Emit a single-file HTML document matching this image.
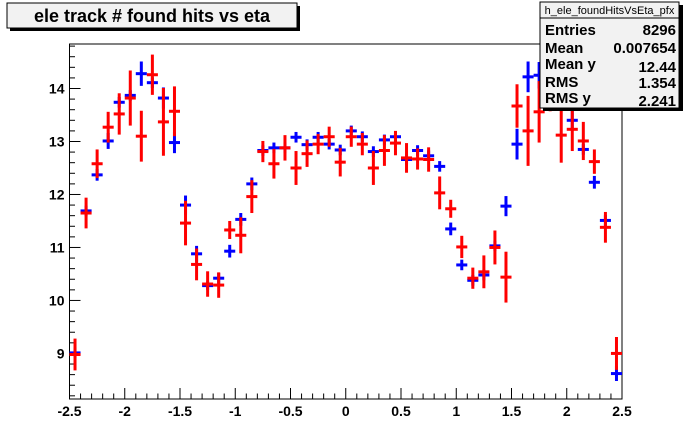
<!DOCTYPE html>
<html><head><meta charset="utf-8"><style>
body{margin:0;background:#fff;}
svg{display:block;font-family:"Liberation Sans",Arial,sans-serif;}
</style></head><body>
<svg id="chart" width="692" height="444" viewBox="0 0 692 444" xmlns="http://www.w3.org/2000/svg">
<rect x="0" y="0" width="692" height="444" fill="#ffffff"/>
<g id="plot"></g>
<g>
<rect x="10" y="6" width="290" height="25" fill="#000"/>
<rect x="7" y="3" width="290" height="25" fill="#f2f2f2" stroke="#000" stroke-width="1"/>
<text x="152" y="22" text-anchor="middle" font-size="18" font-weight="bold" fill="#000">ele track # found hits vs eta</text>
</g>
<g>
<rect x="543" y="5" width="140" height="106" fill="#000"/>
<rect x="540" y="2" width="139" height="106" fill="#f2f2f2" stroke="#000" stroke-width="1"/>
<line x1="540" y1="18" x2="679" y2="18" stroke="#000" stroke-width="1"/>
<text x="609.5" y="14" text-anchor="middle" font-size="11" fill="#000">h_ele_foundHitsVsEta_pfx</text>
<g font-size="15" font-weight="bold" fill="#000">
<text x="545" y="35">Entries</text><text x="676" y="35" text-anchor="end">8296</text>
<text x="545" y="53">Mean</text><text x="676" y="53" text-anchor="end">0.007654</text>
<text x="545" y="69">Mean y</text><text x="676" y="72" text-anchor="end">12.44</text>
<text x="545" y="87">RMS</text><text x="676" y="88" text-anchor="end">1.354</text>
<text x="545" y="103">RMS y</text><text x="676" y="106" text-anchor="end">2.241</text>
</g>
</g>
</svg>
<script>
const blueVals=[9.01,11.69,12.37,13.01,13.74,13.87,14.28,14.11,13.82,12.98,11.80,10.88,10.28,10.42,10.93,11.53,12.20,12.83,12.88,12.88,13.08,12.94,13.08,12.95,12.84,13.20,13.09,12.81,13.03,13.09,12.66,12.83,12.73,12.53,11.35,10.67,10.38,10.48,11.03,11.78,12.95,14.22,14.25,14.2,13.9,13.4,12.85,12.23,11.51,8.62];
const blueErrs=[0.1,0.1,0.11,0.15,0.1,0.1,0.23,0.1,0.2,0.2,0.18,0.15,0.08,0.1,0.12,0.12,0.12,0.1,0.1,0.1,0.1,0.1,0.1,0.1,0.1,0.1,0.1,0.1,0.1,0.1,0.1,0.1,0.1,0.1,0.12,0.1,0.1,0.1,0.1,0.19,0.29,0.29,0.25,0.25,0.2,0.2,0.1,0.12,0.1,0.14];
const redVals=[8.98,11.65,12.58,13.27,13.52,13.82,13.10,14.26,13.37,13.57,11.46,10.68,10.31,10.29,11.33,11.23,11.96,12.81,12.58,12.88,12.50,12.77,12.95,13.09,12.61,13.09,12.95,12.50,12.83,12.97,12.69,12.67,12.66,12.03,11.73,11.01,10.42,10.54,11.00,10.44,13.67,13.20,13.56,13.97,13.12,13.23,13.01,12.62,11.38,9.0];
const redErrs=[0.3,0.29,0.27,0.29,0.39,0.52,0.48,0.38,0.64,0.47,0.42,0.30,0.24,0.24,0.17,0.34,0.31,0.2,0.28,0.24,0.32,0.25,0.19,0.19,0.27,0.19,0.21,0.32,0.29,0.23,0.28,0.2,0.23,0.31,0.17,0.21,0.2,0.31,0.32,0.48,0.41,0.66,0.58,0.4,0.52,0.41,0.36,0.23,0.29,0.31];
const xTicks=[-2.5,-2,-1.5,-1,-0.5,0,0.5,1,1.5,2,2.5];
const xTickLabels=["-2.5","-2","-1.5","-1","-0.5","0","0.5","1","1.5","2","2.5"];
const yTicks=[9,10,11,12,13,14];
const yTickLabels=["9","10","11","12","13","14"];
const xMin=-2.5,xMax=2.5,yMin=8.14,yMax=14.84,nBins=50;
const L=69.5,R=622,T=44,B=399;
const NS="http://www.w3.org/2000/svg";
function sx(v){return L+(v-xMin)/(xMax-xMin)*(R-L);}
function sy(v){return B-(v-yMin)/(yMax-yMin)*(B-T);}
const g=document.getElementById('plot');
function mk(tag,attrs,parent){const e=document.createElementNS(NS,tag);for(const k in attrs)e.setAttribute(k,attrs[k]);(parent||g).appendChild(e);return e;}
const frame=mk('rect',{x:L,y:T,width:R-L,height:B-T,fill:'none',stroke:'#000','stroke-width':1});


const bw=(xMax-xMin)/nBins;
for(let i=0;i<=50;i++){const v=xMin+i*0.1;const major=(i%5===0);
 const t=mk('line',{x1:sx(v),x2:sx(v),y1:B,y2:B-(major?11:5.5),stroke:'#000','stroke-width':1});
 
 }
xTicks.forEach((v,i)=>{const t=mk('text',{x:sx(v),y:B+17,'text-anchor':'middle','font-size':14,'font-weight':'bold',fill:'#000'});t.textContent=xTickLabels[i];
 
 });
for(let v=8.2;v<=14.81;v+=0.2){const r=Math.round(v*10)/10;const major=Math.abs(r-Math.round(r))<1e-6;
 const t=mk('line',{x1:L,x2:L+(major?11:5.5),y1:sy(r),y2:sy(r),stroke:'#000','stroke-width':1});
 
 }
yTicks.forEach((v,i)=>{const t=mk('text',{x:L-5,y:sy(v)+5,'text-anchor':'end','font-size':14,'font-weight':'bold',fill:'#000'});t.textContent=yTickLabels[i];
 
 });
function series(vals,errs,color,name){
 const sg=mk('g',{});
 
 
 vals.forEach((v,i)=>{
  const x0=xMin+i*bw,xc=x0+bw/2;
  const p=mk('g',{},sg);
  
  
  const yt=Math.max(sy(v+errs[i]),T),yb=Math.min(sy(v-errs[i]),B);
  mk('line',{x1:sx(x0),x2:sx(x0+bw),y1:sy(v),y2:sy(v),stroke:color,'stroke-width':3},p);
  mk('line',{x1:sx(xc),x2:sx(xc),y1:yt,y2:yb,stroke:color,'stroke-width':3},p);
 });
}
series(blueVals,blueErrs,'#0000ff','blue-series');
series(redVals,redErrs,'#ff0000','red-series');
</script>
</body></html>
